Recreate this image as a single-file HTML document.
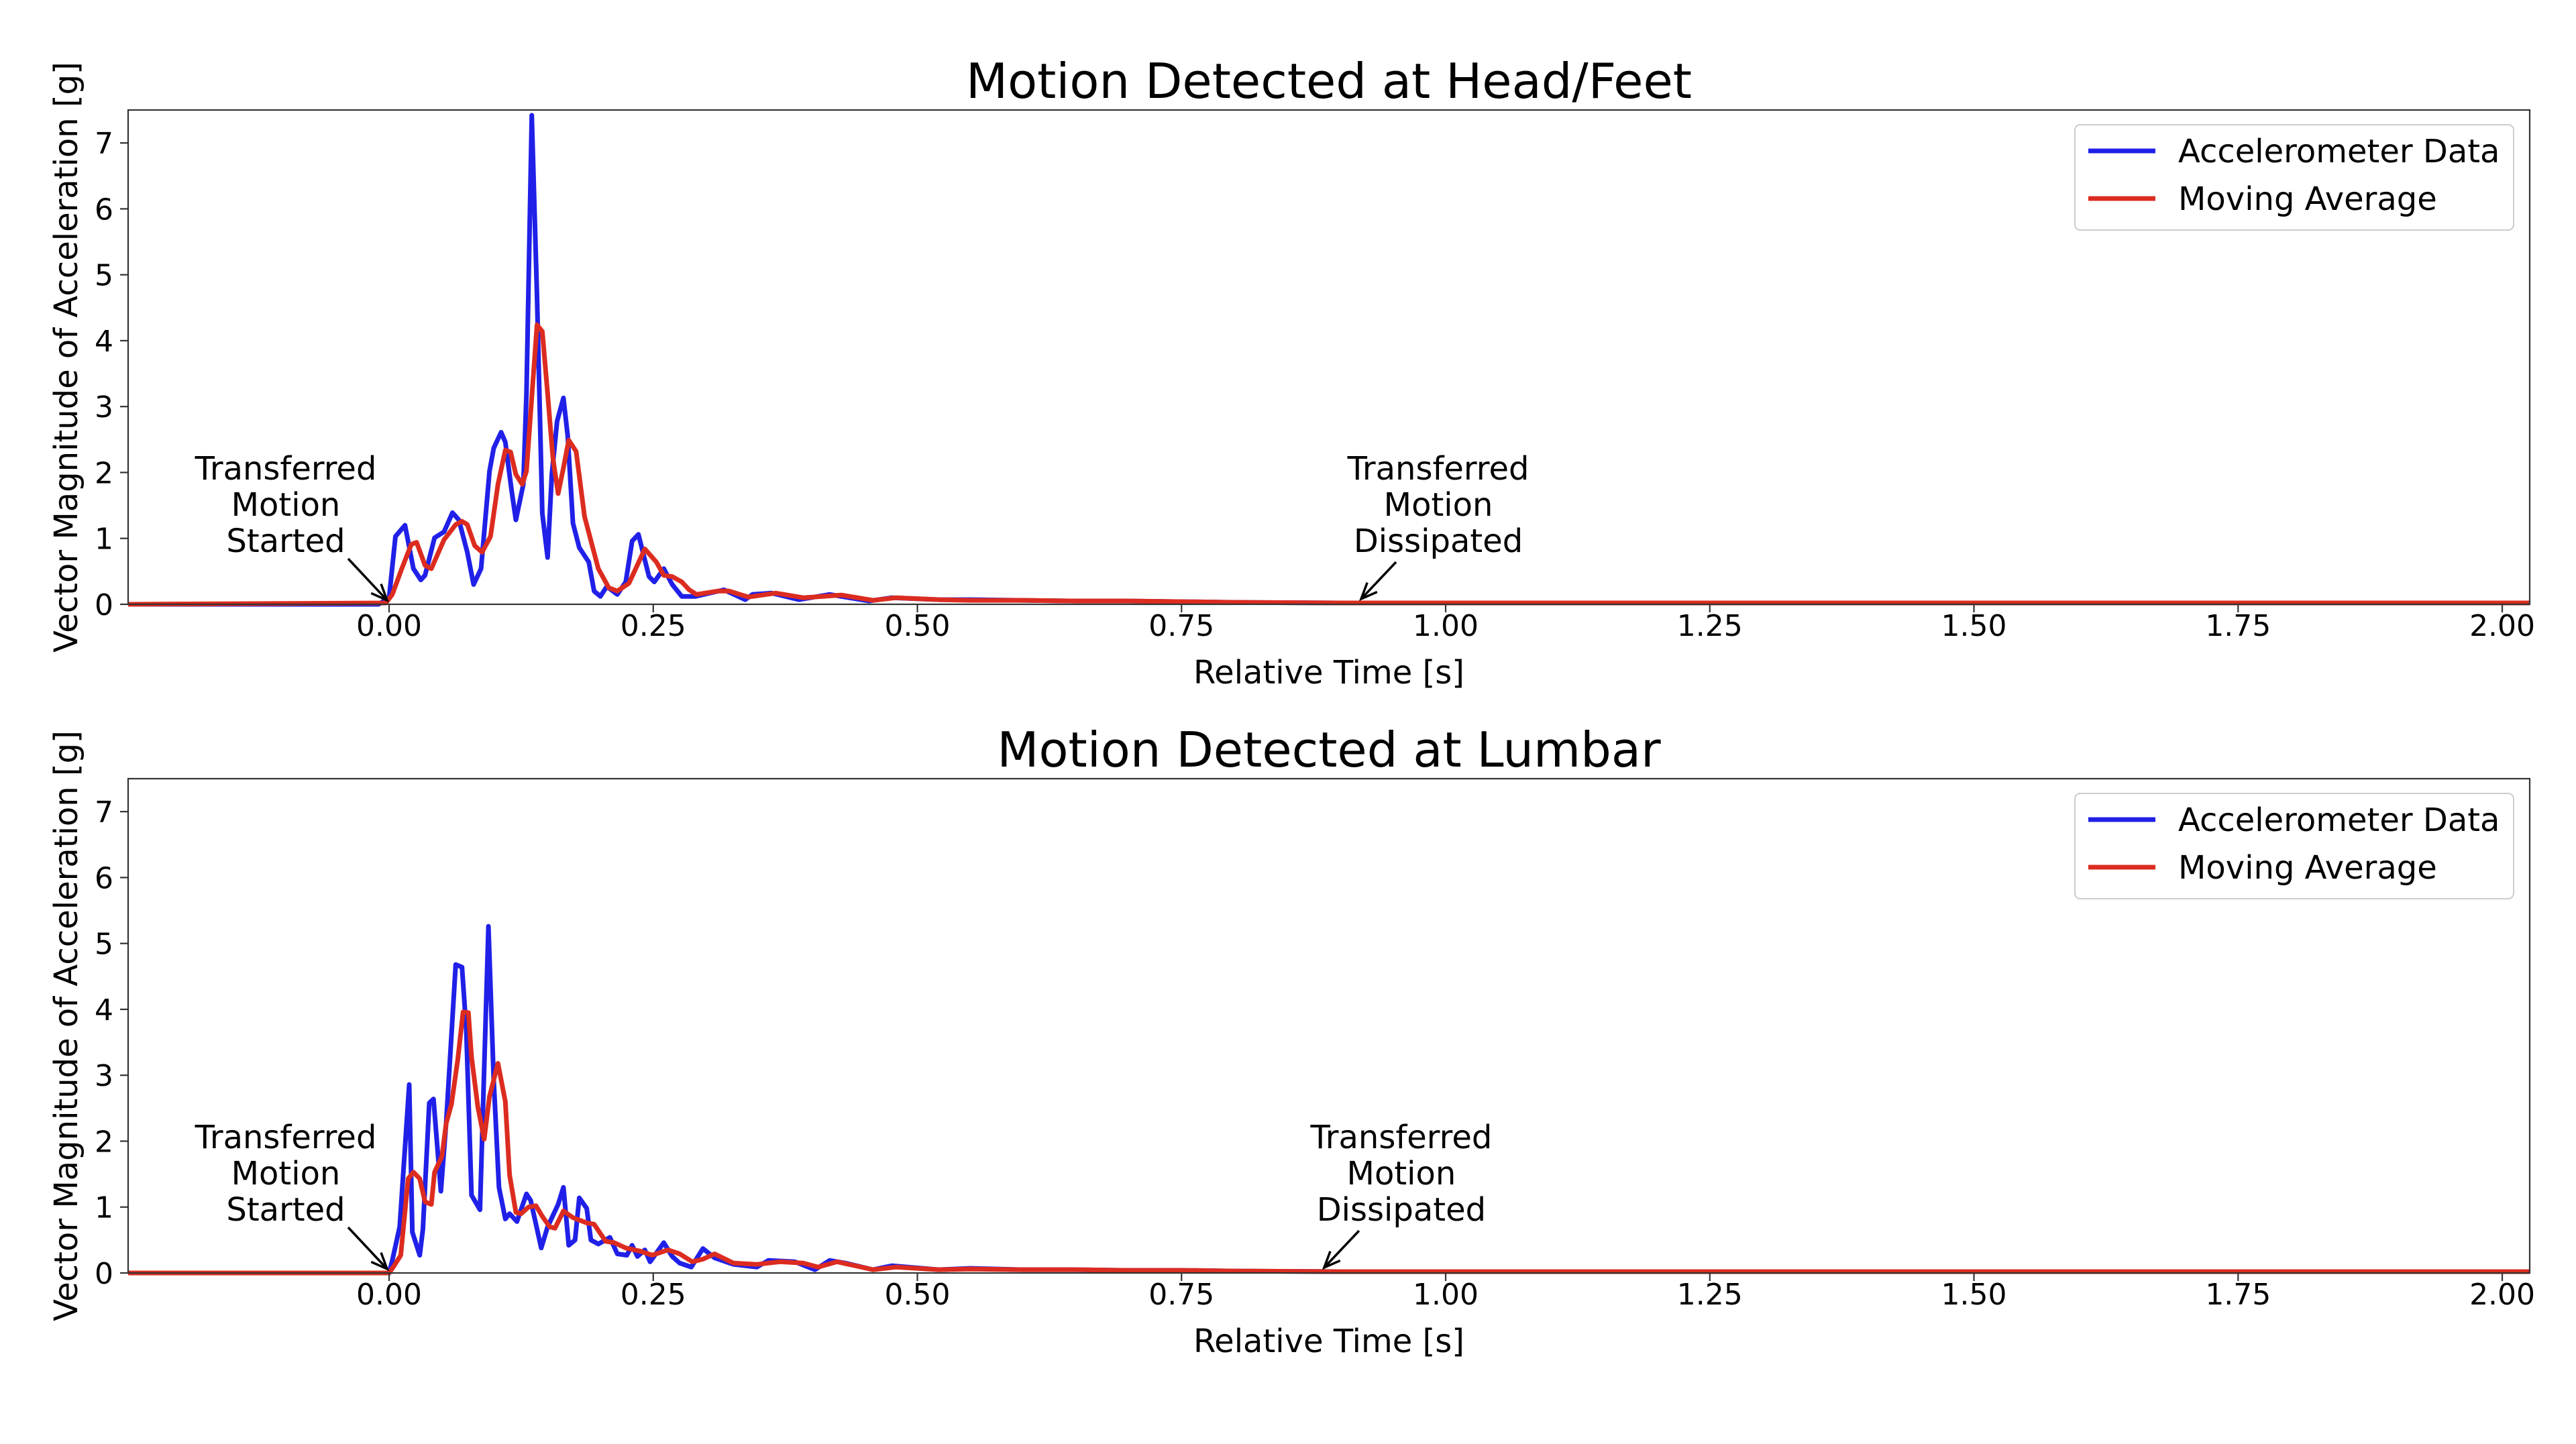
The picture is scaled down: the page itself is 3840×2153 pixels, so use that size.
<!DOCTYPE html>
<html><head><meta charset="utf-8">
<style>
html,body{margin:0;padding:0;background:#fff;}
svg{display:block;font-family:"DejaVu Sans","Liberation Sans",sans-serif;}
</style></head>
<body>
<svg id="fig" width="3840" height="2153" viewBox="0 0 3840 2153" xmlns="http://www.w3.org/2000/svg">
<rect x="0" y="0" width="3840" height="2153" fill="#fff"/>
</svg>
<script>
// ---- data ----
const headBlueT=[-0.25,-0.01,0,0.006,0.015,0.023,0.03,0.034,0.043,0.052,0.06,0.066,0.074,0.08,0.087,0.095,0.099,0.106,0.11,0.116,0.12,0.127,0.13,0.135,0.14,0.145,0.15,0.154,0.159,0.165,0.169,0.174,0.18,0.189,0.194,0.2,0.206,0.216,0.224,0.23,0.236,0.246,0.251,0.26,0.268,0.277,0.29,0.317,0.337,0.344,0.362,0.388,0.417,0.454,0.476,0.52,0.55,0.6,0.65,0.7,0.75,0.8,0.9,1.0,1.2,1.5,2.026];
const headBlueV=[0,0,0.1,1.03,1.2,0.54,0.37,0.44,1.01,1.1,1.39,1.28,0.79,0.3,0.54,2.02,2.37,2.61,2.46,1.72,1.28,1.82,3.2,7.42,4.68,1.38,0.71,1.97,2.78,3.13,2.56,1.23,0.86,0.64,0.2,0.12,0.27,0.15,0.34,0.96,1.06,0.42,0.34,0.54,0.3,0.12,0.12,0.22,0.07,0.15,0.17,0.07,0.15,0.05,0.1,0.07,0.07,0.06,0.05,0.05,0.04,0.03,0.02,0.02,0.02,0.02,0.02];
const headRedT=[-0.25,-0.003,0.003,0.012,0.021,0.026,0.034,0.04,0.052,0.063,0.069,0.074,0.081,0.088,0.096,0.103,0.11,0.115,0.12,0.126,0.13,0.14,0.145,0.15,0.155,0.16,0.165,0.17,0.177,0.185,0.198,0.208,0.216,0.227,0.242,0.253,0.26,0.268,0.277,0.284,0.291,0.311,0.322,0.34,0.366,0.392,0.428,0.458,0.48,0.52,0.55,0.6,0.65,0.7,0.75,0.8,0.9,1.0,1.2,1.5,2.026];
const headRedV=[0,0.02,0.15,0.54,0.91,0.94,0.59,0.54,0.98,1.21,1.26,1.21,0.89,0.79,1.03,1.82,2.34,2.31,1.97,1.82,2.02,4.24,4.14,3.2,2.22,1.68,2.07,2.49,2.32,1.33,0.54,0.25,0.2,0.32,0.84,0.64,0.44,0.42,0.34,0.22,0.15,0.2,0.2,0.11,0.17,0.1,0.14,0.06,0.1,0.07,0.06,0.06,0.05,0.05,0.04,0.03,0.02,0.02,0.02,0.02,0.02];
const lumbBlueT=[-0.25,-0.005,0,0.003,0.01,0.019,0.022,0.029,0.032,0.038,0.042,0.049,0.054,0.063,0.069,0.073,0.078,0.086,0.094,0.099,0.104,0.11,0.114,0.121,0.13,0.134,0.144,0.15,0.16,0.165,0.17,0.176,0.18,0.187,0.191,0.198,0.209,0.216,0.225,0.23,0.235,0.242,0.247,0.26,0.268,0.275,0.286,0.297,0.308,0.326,0.348,0.359,0.384,0.403,0.417,0.432,0.458,0.476,0.52,0.55,0.6,0.65,0.7,0.75,0.8,0.9,1.0,1.2,1.5,2.026];
const lumbBlueV=[0,0,0,0.19,0.7,2.86,0.62,0.27,0.66,2.58,2.64,1.24,2.28,4.68,4.64,3.71,1.18,0.96,5.26,2.92,1.3,0.82,0.9,0.78,1.2,1.1,0.38,0.7,1.04,1.3,0.42,0.5,1.14,0.98,0.5,0.44,0.54,0.29,0.27,0.42,0.25,0.35,0.17,0.46,0.25,0.15,0.09,0.37,0.23,0.13,0.09,0.19,0.17,0.05,0.19,0.15,0.05,0.11,0.05,0.07,0.05,0.05,0.04,0.04,0.03,0.02,0.02,0.02,0.02,0.02];
const lumbRedT=[-0.25,-0.005,0,0.004,0.011,0.018,0.023,0.029,0.034,0.04,0.043,0.05,0.054,0.059,0.065,0.07,0.075,0.078,0.084,0.09,0.095,0.103,0.11,0.114,0.12,0.125,0.132,0.139,0.145,0.152,0.157,0.165,0.174,0.187,0.194,0.205,0.213,0.224,0.238,0.249,0.264,0.275,0.287,0.297,0.308,0.326,0.348,0.37,0.392,0.406,0.424,0.458,0.48,0.52,0.55,0.6,0.65,0.7,0.75,0.8,0.9,1.0,1.2,1.5,2.026];
const lumbRedV=[0,0,0,0.09,0.27,1.43,1.53,1.43,1.08,1.04,1.53,1.77,2.27,2.56,3.24,3.96,3.95,3.28,2.52,2.03,2.68,3.18,2.6,1.49,0.92,0.9,1.0,1.02,0.86,0.7,0.68,0.94,0.84,0.76,0.74,0.48,0.46,0.38,0.33,0.27,0.35,0.29,0.17,0.21,0.29,0.15,0.13,0.17,0.15,0.09,0.17,0.05,0.09,0.05,0.06,0.05,0.05,0.04,0.04,0.03,0.02,0.02,0.02,0.02,0.02];
const xTicks=[0,0.25,0.5,0.75,1.0,1.25,1.5,1.75,2.0];
const xTickLabels=["0.00","0.25","0.50","0.75","1.00","1.25","1.50","1.75","2.00"];
const yTicks=[0,1,2,3,4,5,6,7];
const yTickLabels=["0","1","2","3","4","5","6","7"];
const panelTitles=["Motion Detected at Head/Feet","Motion Detected at Lumbar"];
const dissipatedT=[0.92,0.885];

// ---- drawing ----
const NS="http://www.w3.org/2000/svg";
const svg=document.getElementById('fig');
const XMIN=-0.247,XMAX=2.026,YMIN=0,YMAX=7.5;
const L=191,R=3771;
function mk(tag,attrs,parent){const e=document.createElementNS(NS,tag);for(const k in attrs)e.setAttribute(k,attrs[k]);(parent||svg).appendChild(e);return e;}
function txt(s,attrs,parent){const e=mk('text',attrs,parent);e.textContent=s;return e;}

function panel(idx,top,bottom,blueT,blueV,redT,redV){
  const g=mk('g',{});
  
  
  const xs=t=>L+(t-XMIN)/(XMAX-XMIN)*(R-L);
  const ys=v=>bottom-(v-YMIN)/(YMAX-YMIN)*(bottom-top);
  function series(T,V,color,name){
    let d='';for(let i=0;i<T.length;i++){d+=(i?'L':'M')+xs(Math.max(T[i],XMIN)).toFixed(1)+' '+ys(V[i]).toFixed(1);}
    const p=mk('path',{d:d,fill:'none',stroke:color,'stroke-width':7,'stroke-linejoin':'round'},g);
    
    
  }
  series(blueT,blueV,'#2020e8','accelerometer-data-line');
  series(redT,redV,'#dc2c20','moving-average-line');
  const fr=mk('rect',{x:L,y:top,width:R-L,height:bottom-top,fill:'none',stroke:'#333','stroke-width':2.2},g);
  
  
  xTicks.forEach((t,i)=>{
    const x=xs(t);
    mk('line',{x1:x,y1:bottom,x2:x,y2:bottom+12,stroke:'#333','stroke-width':2.2},g);
    const tl=txt(xTickLabels[i],{x:x,y:bottom+47,'font-size':44,'text-anchor':'middle',fill:'#000'},g);
    
    
  });
  yTicks.forEach((v,i)=>{
    const y=ys(v);
    mk('line',{x1:L-12,y1:y,x2:L,y2:y,stroke:'#333','stroke-width':2.2},g);
    const tl=txt(yTickLabels[i],{x:L-22,y:y+16,'font-size':44,'text-anchor':'end',fill:'#000'},g);
    
    
  });
  const ti=txt(panelTitles[idx],{x:(L+R)/2,y:top-18,'font-size':72,'text-anchor':'middle',fill:'#000'},g);
  
  
  const xl=txt('Relative Time [s]',{x:(L+R)/2,y:bottom+118,'font-size':48,'text-anchor':'middle',fill:'#000'},g);
  
  
  const cy=(top+bottom)/2;
  const yl=txt('Vector Magnitude of Acceleration [g]',{x:0,y:0,'font-size':48,'text-anchor':'middle',fill:'#000',transform:`translate(115,${cy}) rotate(-90)`},g);
  
  
  const lg=mk('g',{},g);
  
  
  mk('rect',{x:3093,y:top+22,width:654,height:157,rx:8,fill:'#fff',stroke:'#ccc','stroke-width':2},lg);
  mk('line',{x1:3113,y1:top+61,x2:3213,y2:top+61,stroke:'#2020e8','stroke-width':7},lg);
  mk('line',{x1:3113,y1:top+132,x2:3213,y2:top+132,stroke:'#dc2c20','stroke-width':7},lg);
  const e1=txt('Accelerometer Data',{x:3247,y:top+78,'font-size':48,fill:'#000'},lg);
  
  
  const e2=txt('Moving Average',{x:3247,y:top+149,'font-size':48,fill:'#000'},lg);
  
  
  function annot(lines,cx,ty,x1,y1,x2,y2,name){
    const a=mk('g',{},g);
    
    
    lines.forEach((s,i)=>txt(s,{x:cx,y:ty+i*54,'font-size':48,'text-anchor':'middle',fill:'#000'},a));
    mk('line',{x1:x1,y1:y1,x2:x2,y2:y2,stroke:'#000','stroke-width':3.5},a);
    const ang=Math.atan2(y2-y1,x2-x1),h=26,w=0.4;
    const p1=[x2-h*Math.cos(ang-w),y2-h*Math.sin(ang-w)],p2=[x2-h*Math.cos(ang+w),y2-h*Math.sin(ang+w)];
    mk('path',{d:`M${p1[0]} ${p1[1]}L${x2} ${y2}L${p2[0]} ${p2[1]}`,fill:'none',stroke:'#000','stroke-width':3.5},a);
  }
  const off=top-164;
  annot(['Transferred','Motion','Started'],426,715+off,519,833+off,xs(0)-3,bottom-6,'started-annotation');
  const dx=xs(dissipatedT[idx]);
  annot(['Transferred','Motion','Dissipated'],dx+115,715+off,dx+52,838+off,dx,bottom-8,'dissipated-annotation');
}
panel(0,164,901,headBlueT,headBlueV,headRedT,headRedV);
panel(1,1161,1898,lumbBlueT,lumbBlueV,lumbRedT,lumbRedV);
</script>
</body></html>
